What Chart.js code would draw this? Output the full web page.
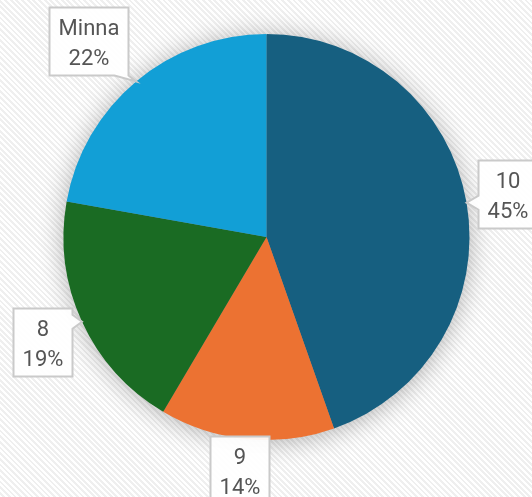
<!DOCTYPE html>
<html>
<head>
<meta charset="utf-8">
<script src="https://cdn.jsdelivr.net/npm/chart.js"></script>
<style>
  html, body {
    margin: 0;
    padding: 0;
    background: repeating-linear-gradient(45deg, #ffffff 0 2px, #efefef 2px 4px);
  }
  .wrap {
    position: relative;
    width: 532px;
    height: 497px;
  }
</style>
</head>
<body>
<div class="wrap"><canvas id="chart"></canvas></div>
<script>
// data
const categories = ['10', '9', '8', 'Minna'];
const values = [44.6, 13.9, 19.3, 22.2];
const colors = ['#165f80', '#ec7232', '#1a6b23', '#129fd6'];

// where each callout box sits, relative to the slice edge it points to
const labelOffsets = [[41, -9], [-7, 31], [-40, 20], [-48, -40]];

const pieShadow = {
  id: 'pieShadow',
  beforeDatasetsDraw(chart) {
    const arc = chart.getDatasetMeta(0).data[0];
    if (!arc) return;
    const ctx = chart.ctx;
    ctx.save();
    ctx.shadowColor = 'rgba(0,0,0,0.32)';
    ctx.shadowBlur = 26;
    ctx.shadowOffsetY = 2;
    ctx.fillStyle = '#888';
    ctx.beginPath();
    ctx.arc(arc.x, arc.y, arc.outerRadius - 1, 0, Math.PI * 2);
    ctx.fill();
    ctx.restore();
  }
};

function calloutPath(ctx, x, y, w, h, ax, ay) {
  const s = 7;
  const clamp = (v, a, b) => Math.max(a, Math.min(b, v));
  const side = ay >= y && ay <= y + h;
  ctx.beginPath();
  ctx.moveTo(x, y);
  if (!side && ay < y) {
    const px = clamp(ax, x + s, x + w - s);
    ctx.lineTo(px - s, y); ctx.lineTo(ax, ay); ctx.lineTo(px + s, y);
  }
  ctx.lineTo(x + w, y);
  if (side && ax > x + w) {
    const py = clamp(ay, y + s, y + h - s);
    ctx.lineTo(x + w, py - s); ctx.lineTo(ax, ay); ctx.lineTo(x + w, py + s);
  }
  ctx.lineTo(x + w, y + h);
  if (!side && ay > y + h) {
    const px = clamp(ax, x + s, x + w - s);
    ctx.lineTo(px + s, y + h); ctx.lineTo(ax, ay); ctx.lineTo(px - s, y + h);
  }
  ctx.lineTo(x, y + h);
  if (side && ax < x) {
    const py = clamp(ay, y + s, y + h - s);
    ctx.lineTo(x, py + s); ctx.lineTo(ax, ay); ctx.lineTo(x, py - s);
  }
  ctx.closePath();
}

const callouts = {
  id: 'callouts',
  afterDatasetsDraw(chart) {
    const ctx = chart.ctx;
    const data = chart.data.datasets[0].data;
    const total = data.reduce((a, b) => a + b, 0);
    ctx.save();
    ctx.font = '22px Roboto';
    chart.getDatasetMeta(0).data.forEach((arc, i) => {
      const mid = (arc.startAngle + arc.endAngle) / 2;
      const ax = arc.x + Math.cos(mid) * arc.outerRadius;
      const ay = arc.y + Math.sin(mid) * arc.outerRadius;
      const lines = [chart.data.labels[i], Math.round(data[i] / total * 100) + '%'];
      const tw = Math.max(...lines.map(t => ctx.measureText(t).width));
      const w = Math.round(tw + 18);
      const h = 68;
      const cx = ax + labelOffsets[i][0];
      const cy = ay + labelOffsets[i][1];
      const x = Math.round(cx - w / 2) + 0.5;
      const y = Math.round(cy - h / 2) + 0.5;
      calloutPath(ctx, x, y, w, h, ax, ay);
      ctx.fillStyle = 'rgba(255,255,255,0.92)';
      ctx.fill();
      ctx.lineWidth = 2;
      ctx.strokeStyle = '#cacaca';
      ctx.stroke();
      ctx.fillStyle = '#555555';
      ctx.textAlign = 'center';
      ctx.textBaseline = 'alphabetic';
      ctx.fillText(lines[0], x + w / 2, y + 27);
      ctx.fillText(lines[1], x + w / 2, y + 57);
    });
    ctx.restore();
  }
};

new Chart(document.getElementById('chart'), {
  type: 'pie',
  data: {
    labels: categories,
    datasets: [{
      data: values,
      backgroundColor: colors,
      borderWidth: 0
    }]
  },
  options: {
    responsive: true,
    maintainAspectRatio: false,
    animation: false,
    layout: { padding: { top: 34, bottom: 57, left: 63, right: 62 } },
    plugins: {
      legend: { display: false },
      tooltip: { enabled: false }
    }
  },
  plugins: [pieShadow, callouts]
});
</script>
</body>
</html>
